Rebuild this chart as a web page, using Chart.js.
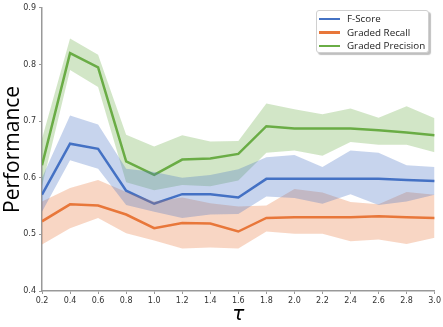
<!DOCTYPE html>
<html>
<head>
<meta charset="utf-8">
<script src="https://cdn.jsdelivr.net/npm/chart.js@4"></script>
<style>
  html, body { margin: 0; padding: 0; background: #fff; }
  #wrap { position: relative; width: 443px; height: 327px; }
  #legend {
    position: absolute; left: 316px; top: 10px; width: 113px; height: 43px;
    border: 1px solid #d0d0d0; border-radius: 3px; background: #fff;
    box-shadow: 2px 2px 1px rgba(0,0,0,0.25);
    font-family: "Open Sans", sans-serif; font-size: 9.8px; color: #222;
    padding-top: 1px; box-sizing: border-box;
  }
  .item { height: 13.5px; display: flex; align-items: center; }
  .swatch { width: 21px; height: 2.5px; margin-left: 2px; margin-right: 7px; }
</style>
</head>
<body>
<div id="wrap">
  <canvas id="chart" width="443" height="327"></canvas>
  <div id="legend"></div>
</div>
<script>
const tau = [0.2, 0.4, 0.6, 0.8, 1.0, 1.2, 1.4, 1.6, 1.8, 2.0, 2.2, 2.4, 2.6, 2.8, 3.0];

const fScore      = [0.570, 0.660, 0.651, 0.577, 0.554, 0.571, 0.571, 0.565, 0.598, 0.598, 0.598, 0.598, 0.598, 0.596, 0.594];
const fScoreHigh  = [0.600, 0.710, 0.694, 0.616, 0.610, 0.600, 0.605, 0.615, 0.636, 0.640, 0.619, 0.648, 0.644, 0.622, 0.619];
const fScoreLow   = [0.540, 0.631, 0.616, 0.552, 0.540, 0.529, 0.535, 0.536, 0.567, 0.564, 0.554, 0.571, 0.552, 0.558, 0.570];

const recall      = [0.523, 0.553, 0.551, 0.535, 0.511, 0.520, 0.519, 0.505, 0.529, 0.530, 0.530, 0.530, 0.532, 0.530, 0.529];
const recallHigh  = [0.558, 0.582, 0.596, 0.575, 0.558, 0.565, 0.555, 0.549, 0.551, 0.580, 0.574, 0.557, 0.553, 0.575, 0.570];
const recallLow   = [0.482, 0.511, 0.529, 0.502, 0.489, 0.475, 0.477, 0.475, 0.505, 0.501, 0.501, 0.488, 0.491, 0.483, 0.494];

const precision     = [0.622, 0.820, 0.795, 0.629, 0.605, 0.632, 0.634, 0.642, 0.691, 0.687, 0.687, 0.687, 0.684, 0.680, 0.675];
const precisionHigh = [0.669, 0.846, 0.817, 0.676, 0.655, 0.675, 0.664, 0.665, 0.731, 0.721, 0.712, 0.722, 0.706, 0.726, 0.705];
const precisionLow  = [0.585, 0.790, 0.760, 0.592, 0.578, 0.587, 0.585, 0.595, 0.644, 0.648, 0.639, 0.663, 0.658, 0.658, 0.645];

const yTicks = [0.4, 0.5, 0.6, 0.7, 0.8, 0.9];

const series = [
  { label: 'F-Score', mean: fScore, high: fScoreHigh, low: fScoreLow, color: '#4472c4', fill: 'rgba(68,114,196,0.3)' },
  { label: 'Graded Recall', mean: recall, high: recallHigh, low: recallLow, color: '#e8773a', fill: 'rgba(232,119,58,0.3)' },
  { label: 'Graded Precision', mean: precision, high: precisionHigh, low: precisionLow, color: '#6aad46', fill: 'rgba(106,173,70,0.3)' }
];

const pts = arr => arr.map((v, i) => ({ x: tau[i], y: v }));

// bands first (low line, then high filled down to it), mean lines on top
const datasets = [];
series.forEach(s => {
  datasets.push({ data: pts(s.low), borderWidth: 0, pointRadius: 0, fill: false, tension: 0 });
  datasets.push({ data: pts(s.high), borderWidth: 0, pointRadius: 0, fill: '-1', backgroundColor: s.fill, tension: 0 });
});
series.forEach(s => {
  datasets.push({ label: s.label, data: pts(s.mean), borderColor: s.color, borderWidth: 2.5, pointRadius: 0, fill: false, tension: 0 });
});

const tickFont = { family: 'DejaVu Sans', size: 8 };

new Chart(document.getElementById('chart'), {
  type: 'line',
  data: { datasets },
  options: {
    responsive: false,
    animation: false,
    layout: { padding: 0 },
    plugins: { legend: { display: false }, tooltip: { enabled: false } },
    scales: {
      x: {
        type: 'linear', min: 0.2, max: 3.0,
        afterBuildTicks: axis => { axis.ticks = tau.map(v => ({ value: v })); },
        ticks: { color: '#333', font: tickFont, padding: 2, maxRotation: 0, callback: v => v.toFixed(1) },
        grid: { drawOnChartArea: false, color: '#999', tickLength: 3 },
        border: { color: '#999', width: 1.5 },
        title: { display: true, text: 'τ', font: { family: 'DejaVu Sans', size: 20, style: 'italic' }, color: '#000', padding: { top: 1, bottom: 0 } },
        afterFit: axis => { axis.height = 36; }
      },
      y: {
        min: 0.4, max: 0.9,
        afterBuildTicks: axis => { axis.ticks = yTicks.map(v => ({ value: v })); },
        ticks: { color: '#333', font: tickFont, padding: 3, callback: v => v.toFixed(1) },
        grid: { drawOnChartArea: false, color: '#999', tickLength: 3 },
        border: { color: '#999', width: 1.5 },
        title: { display: true, text: 'Performance', font: { family: 'Open Sans', size: 21 }, color: '#000', padding: 0 },
        afterFit: axis => { axis.width = 42; }
      }
    }
  }
});

const legend = document.getElementById('legend');
series.forEach(s => {
  const row = document.createElement('div');
  row.className = 'item';
  row.innerHTML = '<span class="swatch" style="background:' + s.color + '"></span><span>' + s.label + '</span>';
  legend.appendChild(row);
});
</script>
</body>
</html>
